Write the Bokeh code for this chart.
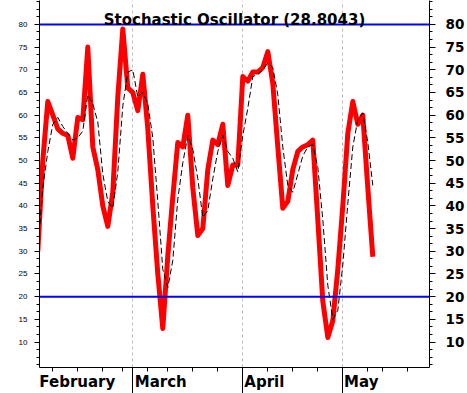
from bokeh.plotting import figure
from bokeh.models import LinearAxis, FixedTicker, Span, Label, Range1d
from bokeh.embed import file_html
from bokeh.resources import INLINE

# %K (red) and %D (black dashed), one value per trading day
k_values = [30, 50, 63, 60, 57, 56, 55.5, 50.5, 59.5, 59, 75, 53, 48, 40, 35.5, 43,
            64, 79, 66, 65, 61, 69, 57, 40, 25, 13, 29, 42, 54, 53, 60, 44, 33.5,
            35, 48, 54.5, 53.5, 58, 44.5, 49, 49, 68.5, 67.5, 69.5, 69.5, 70.5, 74,
            67, 53, 39.5, 41, 48, 52, 53, 53.5, 54.5, 37, 19, 11, 14.7, 26, 40, 56,
            63, 58, 60, 44, 28.8043]
d_values = [30, 44, 52, 58, 59.5, 57.5, 56, 54.5, 55, 56.5, 64.5, 62.5, 58.5, 47, 41,
            39.5, 47.5, 62, 69.5, 70, 64, 65, 62.5, 55, 41, 26, 22, 28, 41.5, 49.5,
            55.5, 52.5, 46, 37.5, 39, 46, 52, 55.5, 52, 50.5, 47.5, 55.5, 61.5, 68.5,
            69, 70, 71.5, 70.5, 64.5, 53, 44.5, 43, 47, 51, 53, 53.5, 48.5, 37, 22.5,
            15, 17, 27, 40.5, 53, 59, 60.5, 54, 44.5]
days = list(range(len(k_values)))

month_names = ["February", "March", "April", "May"]
month_label_pos = [7.9, 24.6, 45.3, 64.7]   # centre of each left-aligned month name
month_starts = [19, 41, 61]                  # trading-day index of March, April, May
week_ticks = [3, 8, 13, 17, 22, 26, 31, 36, 46, 51, 56, 66, 69, 74]
y_ticks = [10, 15, 20, 25, 30, 35, 40, 45, 50, 55, 60, 65, 70, 75, 80]
y_minor = [5, 6.67, 8.33, 11.67, 13.33, 16.67, 18.33, 21.67, 23.33, 26.67, 28.33,
           31.67, 33.33, 36.67, 38.33, 41.67, 43.33, 46.67, 48.33, 51.67, 53.33,
           56.67, 58.33, 61.67, 63.33, 66.67, 68.33, 71.67, 73.33, 76.67, 78.33,
           81.67, 83.33, 85]
levels = [80, 20]

X0, X1 = 0.34, 78.34
Y0, Y1 = 4.39, 85.27

p = figure(width=467, height=393, title=None,
           x_range=Range1d(X0, X1), y_range=Range1d(Y0, Y1),
           output_backend="svg", toolbar_location=None,
           min_border_left=39, min_border_right=38,
           min_border_top=0, min_border_bottom=25)
p.outline_line_color = None
p.background_fill_color = "white"
p.border_fill_color = "white"

# grid: vertical dashed at month starts
p.ygrid.visible = False
p.xgrid.ticker = FixedTicker(ticks=month_starts)
p.xgrid.grid_line_color = "#bdbdbd"
p.xgrid.grid_line_dash = "3 3"
p.xgrid.grid_line_width = 1

# bottom axis 1 (next to the frame): month names + weekly minor ticks
xa = p.xaxis[0]
xa.ticker = FixedTicker(ticks=month_label_pos, minor_ticks=week_ticks)
xa.major_label_overrides = {pos: name for pos, name in zip(month_label_pos, month_names)}
xa.major_tick_out = 0
xa.major_tick_in = 0
xa.minor_tick_out = 4
xa.minor_tick_in = 0
xa.major_label_text_font = "DejaVu Sans"
xa.major_label_text_font_style = "bold"
xa.major_label_text_font_size = "15px"
xa.major_label_text_color = "black"
xa.major_label_standoff = 1
xa.axis_line_color = "black"
xa.minor_tick_line_color = "black"

# bottom axis 2 (outermost): long month-boundary ticks pointing back up to the frame
ma = LinearAxis(ticker=FixedTicker(ticks=month_starts, minor_ticks=[]))
ma.major_label_overrides = {m: "" for m in month_starts}
ma.major_label_text_font_size = "1px"
ma.major_label_standoff = 0
ma.major_tick_out = 0
ma.major_tick_in = 26
ma.minor_tick_out = 0
ma.minor_tick_in = 0
ma.axis_line_color = None
ma.major_tick_line_color = "black"
p.add_layout(ma, "below")

# left axis: small labels
ya = p.yaxis[0]
ya.ticker = FixedTicker(ticks=y_ticks, minor_ticks=y_minor)
ya.major_tick_out = 5
ya.major_tick_in = 0
ya.minor_tick_out = 3
ya.minor_tick_in = 0
ya.major_label_text_font = "Liberation Sans"
ya.major_label_text_font_size = "8px"
ya.major_label_text_color = "black"
ya.major_label_standoff = 7
ya.axis_line_color = "black"

# right axis: large bold labels
ra = LinearAxis(ticker=FixedTicker(ticks=y_ticks, minor_ticks=y_minor))
ra.major_tick_out = 6
ra.major_tick_in = 0
ra.minor_tick_out = 3
ra.minor_tick_in = 0
ra.major_label_text_font = "DejaVu Sans"
ra.major_label_text_font_style = "bold"
ra.major_label_text_font_size = "13.5px"
ra.major_label_text_color = "black"
ra.major_label_standoff = 10
ra.axis_line_color = "black"
p.add_layout(ra, "right")

# series
p.line(days, k_values, line_color="#FF0000", line_width=5, line_join="round")
p.line(days, d_values, line_color="black", line_width=1, line_dash="6 3")

for lv in levels:
    p.add_layout(Span(location=lv, dimension="width", line_color="#0000FF", line_width=2))

# title inside the top of the frame
p.add_layout(Label(x=(X0 + X1) / 2, y=Y1, y_offset=-19,
                   text="Stochastic Oscillator (%s)" % k_values[-1],
                   text_font="DejaVu Sans", text_font_style="bold",
                   text_font_size="15px", text_align="center",
                   text_baseline="alphabetic", text_color="black"))

open("out.html", "w").write(file_html(p, INLINE))
